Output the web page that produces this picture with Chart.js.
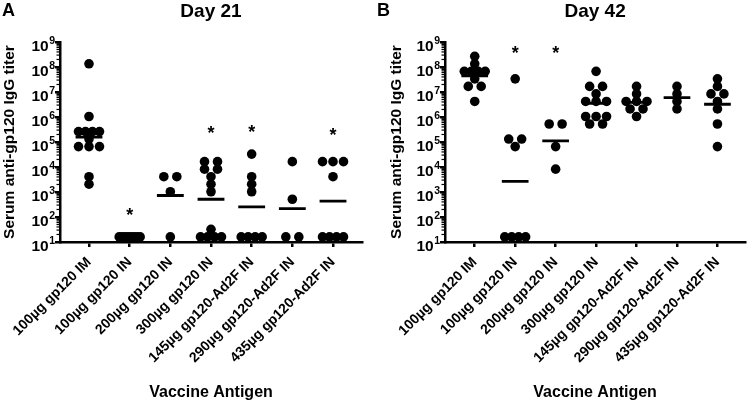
<!DOCTYPE html>
<html lang="en">
<head>
<meta charset="UTF-8" />
<title>Serum anti-gp120 IgG titers</title>
<style>
  *{box-sizing:border-box}
  body{margin:0;background:#fff;width:750px;height:403px;overflow:hidden;position:relative}
  .panel{position:absolute;top:0;width:375px;height:403px}
  #panelA{left:0}
  #panelB{left:375px}
</style>
</head>
<body>
<div class="panel" id="panelA"><canvas id="chartA" width="375" height="403"></canvas></div>
<div class="panel" id="panelB"><canvas id="chartB" width="375" height="403"></canvas></div>

<script src="https://cdn.jsdelivr.net/npm/chart.js"></script>
<script>
// vaccine groups (x categories)
const groups = [
  '100µg gp120 IM',
  '100µg gp120 IN',
  '200µg gp120 IN',
  '300µg gp120 IN',
  '145µg gp120-Ad2F IN',
  '290µg gp120-Ad2F IN',
  '435µg gp120-Ad2F IN'
];

// individual endpoint titers, one list per group
const day21 = [
  [134217728, 1048576, 262144, 262144, 262144, 262144, 131072, 65536, 65536, 65536, 4096, 2048],
  [16, 16, 16, 16, 16, 16, 16, 16],
  [4096, 4096, 1024, 16],
  [16384, 16384, 8192, 8192, 4096, 2048, 1024, 32, 16, 16, 16, 16],
  [32768, 4096, 2048, 1024, 16, 16, 16, 16],
  [16384, 512, 16, 16],
  [16384, 16384, 16384, 4096, 16, 16, 16, 16]
];
const day42 = [
  [268435456, 134217728, 67108864, 67108864, 67108864, 67108864, 33554432, 16777216, 16777216, 4194304],
  [33554432, 131072, 131072, 65536, 16, 16, 16, 16],
  [524288, 524288, 65536, 8192],
  [67108864, 16777216, 16777216, 8388608, 4194304, 4194304, 4194304, 1048576, 1048576, 1048576, 524288, 524288],
  [16777216, 8388608, 4194304, 4194304, 4194304, 2097152, 2097152, 1048576],
  [16777216, 8388608, 4194304, 2097152],
  [33554432, 16777216, 8388608, 8388608, 4194304, 2097152, 524288, 65536]
];

// height (titer units) of the significance asterisk per group
const stars21 = [null, 180, null, 350000, 370000, null, 300000];
const stars42 = [null, 560000000, 560000000, null, null, null, null];

const yTicks = [10, 100, 1e3, 1e4, 1e5, 1e6, 1e7, 1e8, 1e9];

const FONT = '"Liberation Sans", Arial, sans-serif';
const UNIT_PX = 40.7; // px per category, used to spread equal values sideways

// put equal titers side by side like a dot plot
function spread(values, i) {
  const counts = {}, seen = {};
  values.forEach(v => counts[v] = (counts[v] || 0) + 1);
  return values.map(v => {
    const n = counts[v];
    const k = seen[v] = (seen[v] || 0) + 1;
    const step = n > 1 ? Math.min(13, 21 / (n - 1)) / UNIT_PX : 0;
    return { x: i + (k - 1 - (n - 1) / 2) * step, y: v };
  });
}

function geoMean(values) {
  return Math.pow(10, values.reduce((s, v) => s + Math.log10(v), 0) / values.length);
}

const decor = {
  id: 'decor',
  afterDraw(chart, args, o) {
    const { ctx, chartArea: a, scales: { x, y } } = chart;
    ctx.save();
    ctx.fillStyle = '#000';
    ctx.strokeStyle = '#000';

    // minor log ticks
    ctx.lineWidth = 1.2;
    for (let k = 1; k < 9; k++) {
      for (let m = 2; m < 10; m++) {
        const py = y.getPixelForValue(m * Math.pow(10, k));
        ctx.beginPath(); ctx.moveTo(a.left - 3.5, py); ctx.lineTo(a.left, py); ctx.stroke();
      }
    }

    // 10^n tick labels
    ctx.textAlign = 'right';
    ctx.textBaseline = 'alphabetic';
    yTicks.forEach(v => {
      const py = y.getPixelForValue(v);
      const e = String(Math.round(Math.log10(v)));
      const rx = a.left - 5;
      ctx.font = 'bold 10.5px ' + FONT;
      const ew = ctx.measureText(e).width;
      ctx.fillText(e, rx, py + 1.5);
      ctx.font = 'bold 15.5px ' + FONT;
      ctx.fillText('10', rx - ew - 0.5, py + 8.5);
    });

    // asterisks
    ctx.textAlign = 'center';
    ctx.font = 'bold 18px ' + FONT;
    o.stars.forEach((s, i) => {
      if (s == null) return;
      ctx.fillText('*', x.getPixelForValue(i), y.getPixelForValue(s) + 10.5);
    });

    // panel title and letter
    ctx.font = 'bold 19px ' + FONT;
    ctx.fillText(o.title, (a.left + a.right) / 2, 16.5);
    ctx.textAlign = 'left';
    ctx.font = 'bold 18px ' + FONT;
    ctx.fillText(o.letter, 2, 16);
    ctx.restore();
  }
};

function makeChart(id, data, stars, title, letter, axisW, padRight, xMin, xMax, titlePad) {
  const dots = data.flatMap((vals, i) => spread(vals, i));
  const means = data.flatMap((vals, i) => {
    const g = geoMean(vals);
    return [{ x: i - 0.33, y: g }, { x: i + 0.33, y: g }, { x: i + 0.5, y: null }];
  });

  return new Chart(document.getElementById(id), {
    type: 'scatter',
    data: {
      datasets: [
        { type: 'line', data: means, borderColor: '#000', borderWidth: 2.8, pointRadius: 0, spanGaps: false, fill: false },
        { data: dots, backgroundColor: '#000', borderWidth: 0, pointRadius: 4.8, pointHoverRadius: 4.8 }
      ]
    },
    options: {
      responsive: false,
      animation: false,
      events: [],
      clip: false,
      layout: { padding: { left: 0, right: padRight, top: 42, bottom: 0 } },
      plugins: {
        legend: { display: false },
        tooltip: { enabled: false },
        decor: { stars, title, letter }
      },
      scales: {
        x: {
          type: 'linear',
          min: xMin,
          max: xMax,
          afterBuildTicks: s => { s.ticks = groups.map((_, i) => ({ value: i })); },
          afterFit: s => { s.height = 161; },
          ticks: {
            autoSkip: false,
            minRotation: 45,
            maxRotation: 45,
            padding: 7,
            color: '#000',
            font: { family: FONT, size: 14, weight: 'bold' },
            callback: v => groups[v]
          },
          grid: { drawOnChartArea: false, tickLength: 5, lineWidth: 2.5, color: '#000' },
          border: { display: true, color: '#000', width: 2.5 },
          title: {
            display: true,
            text: 'Vaccine Antigen',
            color: '#000',
            font: { family: FONT, size: 16, weight: 'bold' },
            padding: { top: 0, bottom: 1 }
          }
        },
        y: {
          type: 'logarithmic',
          min: 10,
          max: 1e9,
          afterBuildTicks: s => { s.ticks = yTicks.map(v => ({ value: v })); },
          afterFit: s => { s.width = axisW; },
          ticks: { display: false },
          grid: { drawOnChartArea: false, tickLength: 5, lineWidth: 2.5, color: '#000' },
          border: { display: true, color: '#000', width: 2.5 },
          title: {
            display: true,
            text: 'Serum anti-gp120 IgG titer',
            color: '#000',
            font: { family: FONT, size: 15.5, weight: 'bold' },
            padding: { top: titlePad, bottom: 0 }
          }
        }
      }
    },
    plugins: [decor]
  });
}

makeChart('chartA', day21, stars21, 'Day 21', 'A', 60, 13, -0.713, 6.713, 0);
makeChart('chartB', day42, stars42, 'Day 42', 'B', 70, 2, -0.735, 6.686, 12);
</script>
</body>
</html>
